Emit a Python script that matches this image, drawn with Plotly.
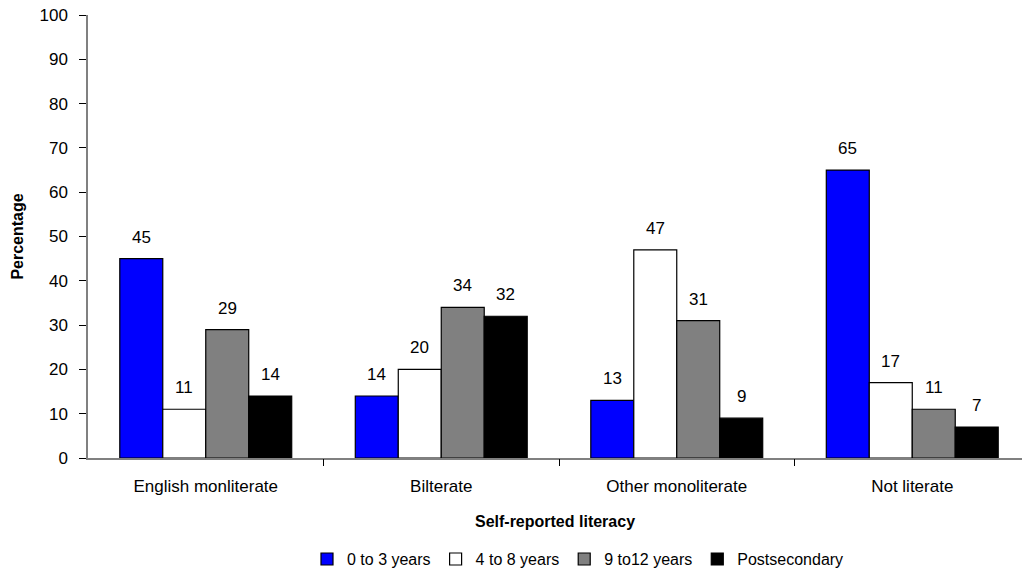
import plotly.graph_objects as go

categories = ["English monliterate", "Bilterate", "Other monoliterate", "Not literate"]
series_names = ["0 to 3 years", "4 to 8 years", "9 to12 years", "Postsecondary"]
v_0_3 = [45, 14, 13, 65]
v_4_8 = [11, 20, 47, 17]
v_9_12 = [29, 34, 31, 11]
v_post = [14, 32, 9, 7]
colors = ["#0000FF", "#FFFFFF", "#808080", "#000000"]

FONT = "Liberation Sans, Arial, sans-serif"
BARGAP = 0.27

all_series = [v_0_3, v_4_8, v_9_12, v_post]
xidx = list(range(len(categories)))
n = len(all_series)
bw = (1 - BARGAP) / n

fig = go.Figure()
for k, (name, vals, col) in enumerate(zip(series_names, all_series, colors)):
    fig.add_trace(go.Bar(
        x=xidx, y=vals, name=name,
        marker=dict(color=col, line=dict(color="#000000", width=1.2)),
    ))
    for i, v in enumerate(vals):
        fig.add_annotation(
            x=i - (1 - BARGAP) / 2 + bw * (k + 0.5), y=v, xref="x", yref="y",
            text=str(v), showarrow=False, yanchor="bottom", yshift=10,
            font=dict(family=FONT, size=17, color="#000000"),
        )

fig.update_layout(
    width=1023, height=574,
    margin=dict(l=88, r=1, t=15, b=116, autoexpand=False),
    paper_bgcolor="white", plot_bgcolor="white",
    barmode="group", bargap=BARGAP, bargroupgap=0,
    font=dict(family=FONT, size=17, color="#000000"),
    showlegend=True,
    legend=dict(orientation="h", xref="container", yref="container",
                x=0.565, xanchor="center", y=0.026, yanchor="middle",
                font=dict(family=FONT, size=16, color="#000000"),
                itemwidth=30, traceorder="normal"),
    xaxis=dict(
        range=[-0.5, 3.466],
        tickmode="array", tickvals=xidx, ticktext=categories,
        showline=True, linecolor="#808080", linewidth=1.5,
        ticks="", showgrid=False, zeroline=False,
        tickfont=dict(family=FONT, size=17), ticklabelstandoff=12,
        automargin=False,
        title=dict(text="<b>Self-reported literacy</b>", font=dict(family=FONT, size=16), standoff=21),
    ),
    xaxis2=dict(
        overlaying="x", matches="x", range=[-0.5, 3.466],
        tickmode="array", tickvals=[0.5, 1.5, 2.5], showticklabels=False,
        ticks="outside", ticklen=7, tickcolor="#000000", tickwidth=1,
        showline=False, showgrid=False, zeroline=False, side="bottom", anchor="y",
    ),
    yaxis=dict(
        range=[0, 100], dtick=10,
        showline=True, linecolor="#808080", linewidth=1.5,
        ticks="outside", ticklen=7, tickcolor="#000000",
        showgrid=False, zeroline=False, tickfont=dict(family=FONT, size=17),
        ticklabelstandoff=8, automargin=False,
        title=dict(text="<b>Percentage</b>", font=dict(family=FONT, size=16), standoff=12),
    ),
)
# invisible trace to activate the boundary-tick axis
fig.add_trace(go.Scatter(x=[0.5], y=[0], xaxis="x2", yaxis="y", mode="markers",
                         marker=dict(opacity=0), showlegend=False, hoverinfo="skip"))

fig.write_html("out.html")
